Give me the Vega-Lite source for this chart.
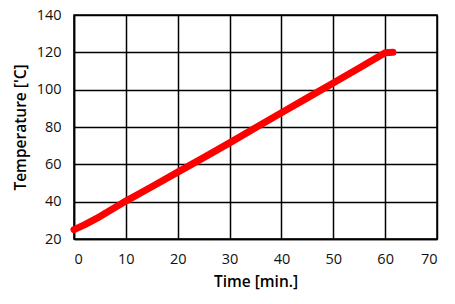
{
  "$schema": "https://vega.github.io/schema/vega-lite/v6.json",
  "width": 363,
  "height": 224,
  "padding": {"left": 13, "top": 7, "right": 18, "bottom": 8},
  "background": "white",
  "data": {
    "values": [
      {"time": 0, "temp": 25},
      {"time": 2, "temp": 27.6},
      {"time": 5, "temp": 32},
      {"time": 10, "temp": 40.3},
      {"time": 15, "temp": 48},
      {"time": 20, "temp": 55.8},
      {"time": 25, "temp": 63.6},
      {"time": 30, "temp": 71.5},
      {"time": 35, "temp": 79.6},
      {"time": 40, "temp": 87.6},
      {"time": 45, "temp": 95.6},
      {"time": 50, "temp": 103.6},
      {"time": 55, "temp": 111.6},
      {"time": 60, "temp": 119.8},
      {"time": 61.5, "temp": 120}
    ]
  },
  "mark": {"type": "line", "color": "#ff0000", "strokeWidth": 7, "strokeCap": "round", "strokeJoin": "round"},
  "encoding": {
    "x": {
      "field": "time", "type": "quantitative",
      "scale": {"domain": [0, 70], "nice": false, "zero": false},
      "axis": {"values": [0, 10, 20, 30, 40, 50, 60, 70], "title": "Time [min.]", "titlePadding": 9}
    },
    "y": {
      "field": "temp", "type": "quantitative",
      "scale": {"domain": [20, 140], "nice": false, "zero": false},
      "axis": {"values": [20, 40, 60, 80, 100, 120, 140], "title": "Temperature ['C]", "titlePadding": 8}
    }
  },
  "config": {
    "font": "Open Sans",
    "view": {"stroke": "black", "strokeWidth": 1.5},
    "axis": {
      "grid": true,
      "gridColor": "black",
      "gridOpacity": 1,
      "gridWidth": 1.5,
      "domainColor": "black",
      "domainWidth": 1.5,
      "ticks": false,
      "labelPadding": 13,
      "labelFont": "Open Sans",
      "labelFontSize": 14.5,
      "labelColor": "#111",
      "titleFont": "Open Sans",
      "titleFontSize": 15.5,
      "titleFontWeight": 600,
      "titleColor": "black"
    }
  }
}
